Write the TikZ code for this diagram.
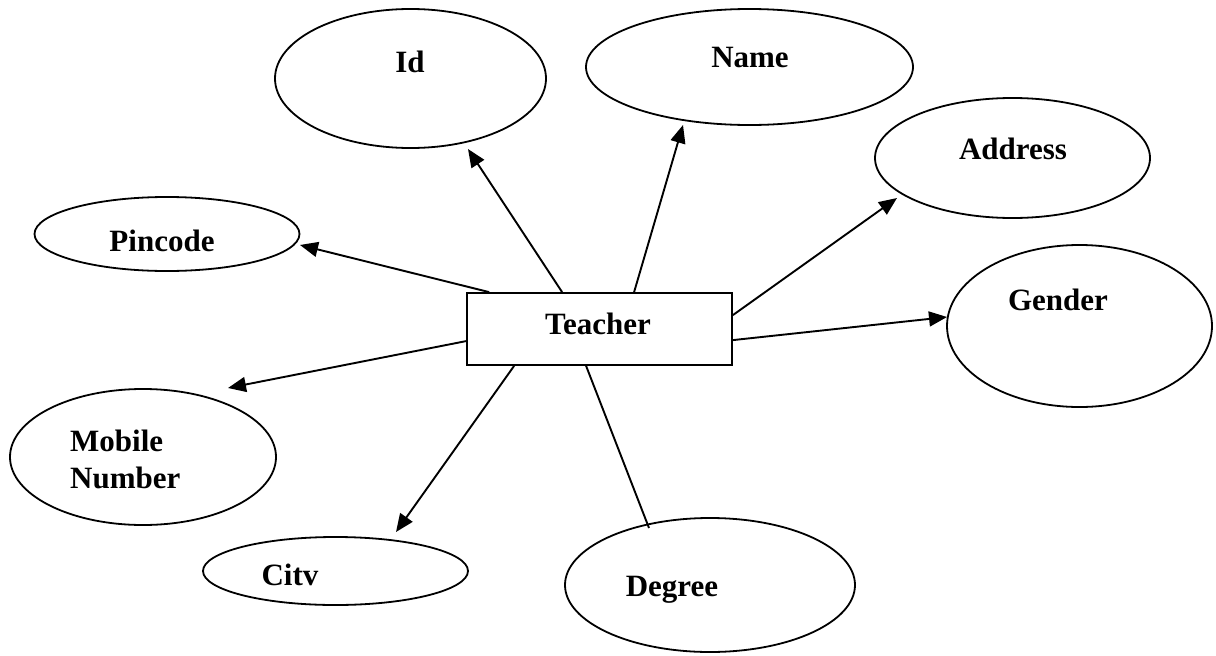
\documentclass[tikz,border=0pt]{standalone}
\usepackage{fontspec}
\setmainfont{Liberation Serif}
\usetikzlibrary{shapes.geometric,arrows.meta,calc}
\begin{document}
\begin{tikzpicture}[x=1pt,y=-1pt,
  attr/.style={draw, ellipse, line width=1.8pt, inner sep=0pt},
  ent/.style={draw, rectangle, line width=1.8pt, inner sep=0pt},
  lbl/.style={font=\fontsize{31}{36}\selectfont\bfseries, inner sep=0pt, anchor=base},
  arr/.style={line width=1.9pt, -{Triangle[length=18pt,width=15pt]}},
  ln/.style={line width=1.9pt}]
\useasboundingbox (0,0) rectangle (1216,656);
% entity
\node[ent, minimum width=265pt, minimum height=72pt] (teacher) at (599.5,329) {};
\node[lbl] (teacher-t) at (598,334) {Teacher};
% attributes
\node[attr, minimum width=271pt, minimum height=139pt] (id) at (410.5,78.5) {};
\node[lbl] (id-t) at (410,72) {Id};
\node[attr, minimum width=327pt, minimum height=116pt] (name) at (749.5,67) {};
\node[lbl] (name-t) at (750,67) {Name};
\node[attr, minimum width=275pt, minimum height=120pt] (address) at (1012.5,158) {};
\node[lbl] (address-t) at (1013,159) {Address};
\node[attr, minimum width=265pt, minimum height=162pt] (gender) at (1079.5,326) {};
\node[lbl] (gender-t) at (1058,310) {Gender};
\node[attr, minimum width=265pt, minimum height=74pt] (pincode) at (167,234) {};
\node[lbl] (pincode-t) at (162,251) {Pincode};
\node[attr, minimum width=266pt, minimum height=136pt] (mobile) at (143,457) {};
\node[lbl, anchor=base west] (mobile-t1) at (70,451) {Mobile};
\node[lbl, anchor=base west] (mobile-t2) at (70,488) {Number};
\node[attr, minimum width=265pt, minimum height=68pt] (city) at (335.5,571) {};
\node[lbl] (city-t) at (290,585) {Citv};
\node[attr, minimum width=290pt, minimum height=134pt] (degree) at (710,585) {};
\node[lbl] (degree-t) at (672,596) {Degree};
% arrow tips
\coordinate (id-tip) at (468,149);
\coordinate (name-tip) at (683,125);
\coordinate (address-tip) at (897,198);
\coordinate (gender-tip) at (947,317);
\coordinate (pincode-tip) at (300,245);
\coordinate (mobile-tip) at (228,388);
\coordinate (city-tip) at (396,532);
\coordinate (degree-end) at (649,528);
% connectors
\draw[arr] ($(teacher.north west)+(96,0)$) -- (id-tip);
\draw[arr] ($(teacher.north west)+(168,0)$) -- (name-tip);
\draw[arr] ($(teacher.north east)+(0,23)$) -- (address-tip);
\draw[arr] ($(teacher.north east)+(0,48)$) -- (gender-tip);
\draw[arr] ($(teacher.north west)+(23,0)$) -- (pincode-tip);
\draw[arr] ($(teacher.north west)+(0,49)$) -- (mobile-tip);
\draw[arr] ($(teacher.south west)+(48,0)$) -- (city-tip);
\draw[ln] ($(teacher.south west)+(120,0)$) -- (degree-end);
\end{tikzpicture}
\end{document}
